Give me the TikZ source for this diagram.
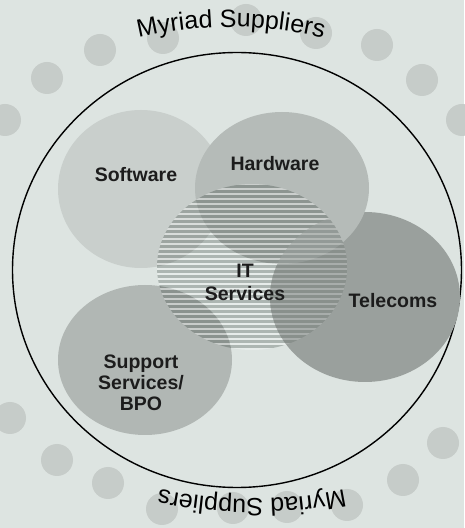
\documentclass[tikz,border=0pt]{standalone}
\usepackage{fontspec}
\setmainfont{Liberation Sans}
\usetikzlibrary{decorations.text}

\definecolor{paper}{HTML}{DDE4E1}
\definecolor{dotgrey}{HTML}{C6CCC9}
\definecolor{softfill}{HTML}{C9CFCC}
\definecolor{hardfill}{HTML}{B5BBB8}
\definecolor{supportfill}{HTML}{B1B7B4}
\definecolor{telefill}{HTML}{9AA09D}
\definecolor{stripegrey}{HTML}{C8CCCA}
\definecolor{inkdark}{HTML}{1C1C1C}

\newcommand\arcfont{\fontsize{25}{25}\selectfont}

\tikzset{
  sector/.style={font=\fontsize{19.5}{21}\selectfont\bfseries, text=inkdark, inner sep=0pt, align=center},
  supplierdot/.style={fill=dotgrey},
}

\begin{document}
\begin{tikzpicture}[x=1pt,y=1pt]
  \useasboundingbox (0,0) rectangle (464,528);
  \fill[paper] (0,0) rectangle (464,528);

  % scattered supplier dots outside the main ring
  \foreach \p in {(100,478),(47,450),(5,408),(163,490),(246,508),(316,495),
                  (377,483),(422,448),(462,408),
                  (10,110),(57,68),(108,45),(443,85),(403,48),
                  (162,19),(233,20),(287,21),(347,23)}
    \fill[supplierdot] \p circle[radius=16];

  % curved captions
  \path[decorate, decoration={text along path, text align=center,
        text={|\arcfont|Myriad Suppliers}}]
    (231,101) ++(118:400) arc[start angle=118, end angle=62, radius=400];
  \path[decorate, decoration={text along path, text align=center,
        text={|\arcfont|Myriad Suppliers}}]
    (252,479) ++(-64:450) arc[start angle=-64, end angle=-116, radius=450];

  % main ring
  \draw[line width=1.4pt] (237,258) ellipse[x radius=224.5, y radius=217.5];

  % sector discs
  \fill[softfill]    (141,339) ellipse[x radius=83, y radius=79];
  \fill[telefill]    (365,231) ellipse[x radius=95, y radius=85];
  \fill[hardfill]    (282,340) ellipse[x radius=87, y radius=76];
  \fill[supportfill] (145,168) ellipse[x radius=87, y radius=75];

  % striped IT services disc
  \begin{scope}
    \clip (252,261) ellipse[x radius=95, y radius=83];
    \begin{scope}[blend mode=multiply]
      \foreach \k in {0,...,34}
        \draw[stripegrey, line width=3pt] (150,176+5*\k) -- (360,176+5*\k);
    \end{scope}
    \foreach \k in {0,...,34}
      \draw[white, opacity=0.3, line width=2pt] (150,178.5+5*\k) -- (360,178.5+5*\k);
    \fill[telefill, opacity=0.5] (365,231) ellipse[x radius=95, y radius=85];
  \end{scope}

  % labels
  \node[sector, anchor=base] (software) at (136,346) {Software};
  \node[sector, anchor=base] (hardware) at (275,357) {Hardware};
  \node[sector, anchor=base] (telecoms) at (393,220) {Telecoms};
  \node[sector, font=\fontsize{19.5}{23}\selectfont\bfseries] (itserv) at (245,245.5) {IT\\Services};
  \node[sector] (support) at (141,145) {Support\\Services/\\BPO};
\end{tikzpicture}
\end{document}
